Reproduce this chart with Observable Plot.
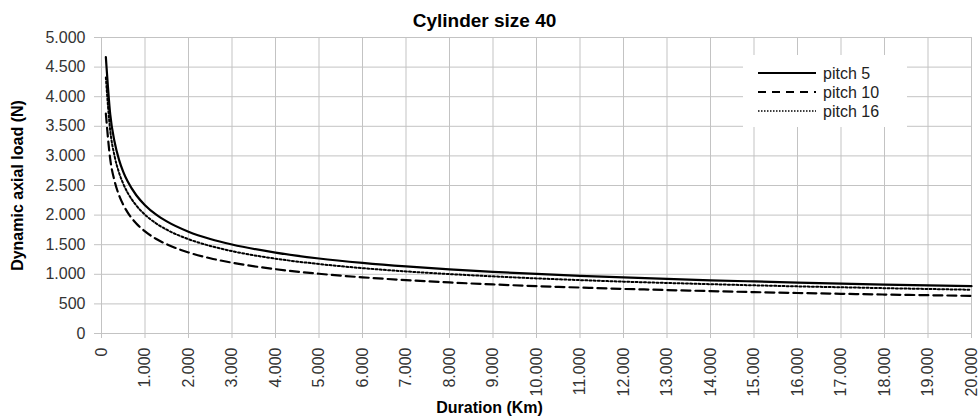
<!DOCTYPE html>
<html>
<head>
<meta charset="utf-8">
<script src="https://cdn.jsdelivr.net/npm/d3@7"></script>
<script src="https://cdn.jsdelivr.net/npm/@observablehq/plot@0.6"></script>
<style>
  html, body { margin: 0; padding: 0; background: #fff; }
  #chart { position: relative; width: 978px; height: 419px; }
</style>
</head>
<body>
<div id="chart"></div>
<script>
// ---- Data ----
const durations = [100, 200, 300, 400, 500, 600, 800, 1000, 1250, 1500, 2000, 2500, 3000, 4000, 5000,
  6000, 7000, 8000, 9000, 10000, 11000, 12000, 13000, 14000, 15000, 16000, 17000, 18000, 19000, 20000];
const pitch5 = [4670, 3707, 3238, 2942, 2731, 2570, 2335, 2168, 2012, 1894, 1720, 1597, 1503, 1366, 1267,
  1193, 1133, 1084, 1042, 1006, 975, 947, 922, 899, 879, 860, 843, 827, 813, 799];
const pitch10 = [3716, 2949, 2577, 2341, 2173, 2045, 1858, 1725, 1601, 1507, 1369, 1271, 1196, 1087, 1009,
  949, 902, 862, 829, 800, 776, 753, 734, 716, 699, 684, 671, 658, 647, 635];
const pitch16 = [4324, 3432, 2998, 2724, 2529, 2380, 2162, 2007, 1863, 1753, 1593, 1479, 1391, 1264, 1174,
  1104, 1049, 1004, 965, 931, 902, 876, 854, 833, 814, 796, 781, 766, 752, 739];
const seriesNames = ["pitch 5", "pitch 10", "pitch 16"];
const xTicks = d3.range(0, 20001, 1000);
const yTicks = d3.range(0, 5001, 500);
const titleText = "Cylinder size 40";
const xTitle = "Duration (Km)";
const yTitle = "Dynamic axial load (N)";

// ---- Build ----
const locale = d3.formatLocale({decimal: ",", thousands: ".", grouping: [3], currency: ["", ""]});
const fmt = locale.format(",d");
const rows = (vals) => durations.map((d, i) => ({x: d, y: vals[i]}));
const FONT = "'Liberation Sans', Arial, Helvetica, sans-serif";
const GRID = "#c3c3c3";
const styles = [
  {name: seriesNames[0], data: rows(pitch5), dash: null, width: 2.2},
  {name: seriesNames[1], data: rows(pitch10), dash: "9 5", width: 2.2},
  {name: seriesNames[2], data: rows(pitch16), dash: "2 2.2", width: 2}
];

const svg = Plot.plot({
  width: 978,
  height: 419,
  marginLeft: 101,
  marginRight: 7,
  marginTop: 37,
  marginBottom: 86,
  style: {fontFamily: FONT, fontSize: "16px", color: "#333", background: "#fff", overflow: "visible"},
  x: {domain: [0, 20000]},
  y: {domain: [0, 5000]},
  marks: [
    Plot.gridX(xTicks, {stroke: GRID, strokeOpacity: 1, strokeWidth: 1}),
    Plot.gridY(yTicks, {stroke: GRID, strokeOpacity: 1, strokeWidth: 1}),
    Plot.axisX(xTicks, {tickFormat: fmt, tickRotate: -90, tickSize: 5, tickPadding: 9, label: null,
      stroke: GRID, fill: "#333", fontSize: 16}),
    Plot.axisY(yTicks, {tickFormat: fmt, tickSize: 7, tickPadding: 9, label: null,
      stroke: GRID, fill: "#333", fontSize: 16}),
    ...styles.map(s => Plot.line(s.data, {x: "x", y: "y", stroke: "#000", strokeWidth: s.width,
      strokeDasharray: s.dash, curve: "monotone-x"})),
    Plot.text([titleText], {frameAnchor: "top", dx: -52, dy: -17, lineAnchor: "middle", textAnchor: "middle",
      fontWeight: "bold", fontSize: 19, fill: "#000"}),
    Plot.text([xTitle], {frameAnchor: "bottom", dx: -47, dy: 74, lineAnchor: "middle", textAnchor: "middle",
      fontWeight: "bold", fontSize: 16, fill: "#000"}),
    Plot.text([yTitle], {frameAnchor: "left", dx: -84, rotate: -90, lineAnchor: "middle", textAnchor: "middle",
      fontWeight: "bold", fontSize: 16, fill: "#000"})
  ]
});

// Legend inside the plot area (top right)
const lg = d3.select(svg).append("g").attr("font-family", FONT).attr("font-size", 16).attr("text-anchor", "start");
lg.append("rect").attr("x", 743).attr("y", 55).attr("width", 164).attr("height", 72).attr("fill", "#fff");
styles.forEach((s, i) => {
  const yy = 73 + i * 19;
  lg.append("line").attr("x1", 758).attr("x2", 816).attr("y1", yy).attr("y2", yy)
    .attr("stroke", "#000").attr("stroke-width", i === 2 ? 1.5 : 2.2)
    .attr("stroke-dasharray", i === 1 ? "8 6" : (i === 2 ? "1.5 1.5" : null));
  lg.append("text").attr("x", 823).attr("y", yy).attr("dy", "0.35em").attr("text-anchor", "start")
    .attr("fill", "#222").text(s.name);
});

document.getElementById("chart").appendChild(svg);
</script>
</body>
</html>
